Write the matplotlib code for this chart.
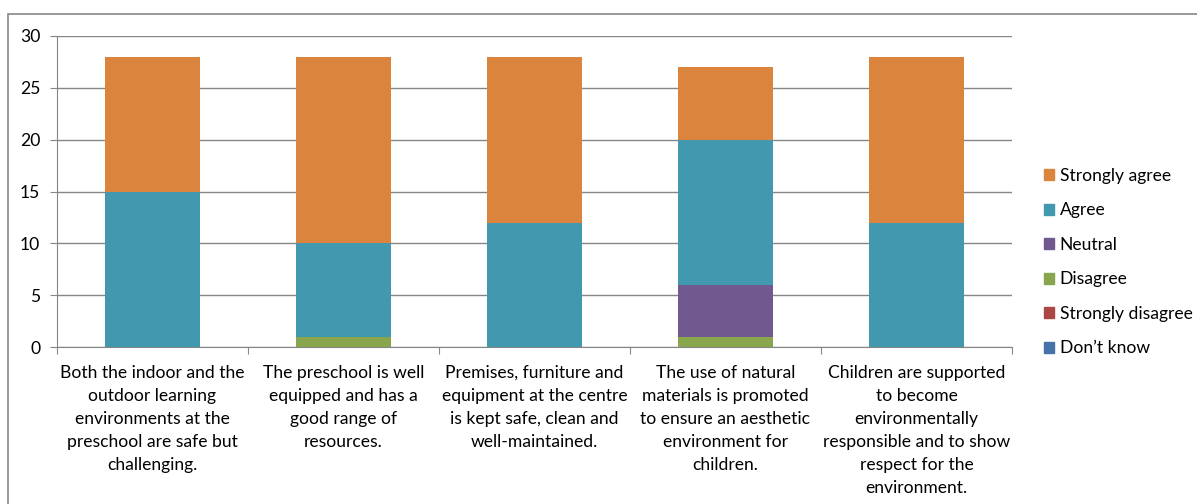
import matplotlib.pyplot as plt
import matplotlib.patches as mpatches
import numpy as np

plt.rcParams['font.family'] = ['Lato', 'DejaVu Sans']

categories = [
    "Both the indoor and the\noutdoor learning\nenvironments at the\npreschool are safe but\nchallenging.",
    "The preschool is well\nequipped and has a\ngood range of\nresources.",
    "Premises, furniture and\nequipment at the centre\nis kept safe, clean and\nwell-maintained.",
    "The use of natural\nmaterials is promoted\nto ensure an aesthetic\nenvironment for\nchildren.",
    "Children are supported\nto become\nenvironmentally\nresponsible and to show\nrespect for the\nenvironment.",
]

# stacking order bottom -> top
dont_know = [0, 0, 0, 0, 0]
strongly_disagree = [0, 0, 0, 0, 0]
disagree = [0, 1, 0, 1, 0]
neutral = [0, 0, 0, 5, 0]
agree = [15, 9, 12, 14, 12]
strongly_agree = [13, 18, 16, 7, 16]

series = [
    ("Don\u2019t know", dont_know, "#4573A8"),
    ("Strongly disagree", strongly_disagree, "#AA4643"),
    ("Disagree", disagree, "#89A54E"),
    ("Neutral", neutral, "#71588F"),
    ("Agree", agree, "#4198AF"),
    ("Strongly agree", strongly_agree, "#DB843D"),
]

fs = 12.6

fig = plt.figure(figsize=(11.97, 5.04), dpi=100)
ax = fig.add_axes([57 / 1197, 1 - 347 / 504, (1012 - 57) / 1197, (347 - 36) / 504])

x = np.arange(len(categories))
bottom = np.zeros(len(categories))
handles = []
for name, vals, col in series:
    ax.bar(x, vals, width=0.5, bottom=bottom, color=col, edgecolor='none', zorder=3)
    bottom += np.array(vals)
    handles.append(mpatches.Patch(color=col, label=name))

ax.set_xlim(-0.5, len(categories) - 0.5)
ax.set_ylim(0, 30)
ax.set_yticks(range(0, 31, 5))
ax.yaxis.grid(True, color='#868686', linewidth=1, zorder=0)
ax.set_axisbelow(True)
for s in ['top', 'right']:
    ax.spines[s].set_visible(False)
for s in ['left', 'bottom']:
    ax.spines[s].set_color('#868686')
ax.tick_params(axis='y', length=5, color='#868686', labelsize=fs, pad=7)

# x ticks at category boundaries, labels at centres
ax.set_xticks(np.arange(-0.5, len(categories)), minor=False)
ax.set_xticklabels([])
ax.tick_params(axis='x', which='major', length=5, color='#868686')
ax.set_xticks(x, minor=True)
ax.set_xticklabels(categories, minor=True, fontsize=fs, linespacing=1.53, va='top')
ax.tick_params(axis='x', which='minor', length=0, pad=13)

ax.legend(handles=handles[::-1], loc='center left', bbox_to_anchor=(1.017, 0.273),
          frameon=False, fontsize=fs, handlelength=0.6, handleheight=0.6,
          handletextpad=0.3, labelspacing=1.06)

# outer chart border
fig.add_artist(mpatches.Rectangle((8 / 1197, -0.1), 1.2, 1 - 14 / 504 + 0.1,
                                  transform=fig.transFigure, fill=False,
                                  edgecolor='#868686', linewidth=1.2, clip_on=False))

fig.savefig('out.png', dpi=100)
